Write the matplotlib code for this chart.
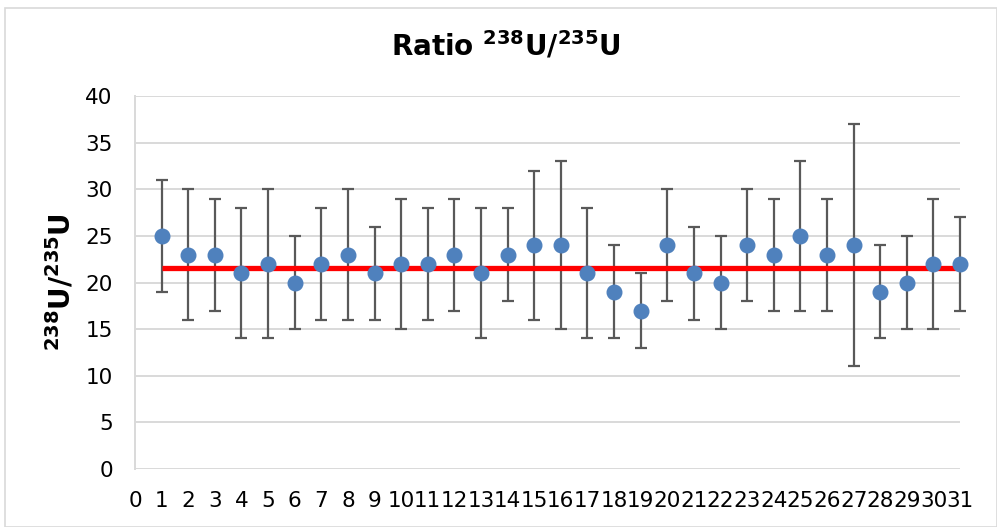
import matplotlib
matplotlib.use("Agg")
import matplotlib.pyplot as plt
from matplotlib.patches import Rectangle

# data
samples = list(range(1, 32))
ratio = [25, 23, 23, 21, 22, 20, 22, 23, 21, 22, 22, 23, 21, 23, 24, 24,
         21, 19, 17, 24, 21, 20, 24, 23, 25, 23, 24, 19, 20, 22, 22]
ratio_err = [6, 7, 6, 7, 8, 5, 6, 7, 5, 7, 6, 6, 7, 5, 8, 9,
             7, 5, 4, 6, 5, 5, 6, 6, 8, 6, 13, 5, 5, 7, 5]
mean_ratio = 21.6
x_ticks = list(range(0, 32))
y_ticks = list(range(0, 45, 5))

fig = plt.figure(figsize=(9.97, 5.27), dpi=100)
ax = fig.add_axes([0.1354, 0.110, 0.8276, 0.7078])

# outer chart border
fig.patches.append(Rectangle((0.005, 0.0), 0.995, 0.985, transform=fig.transFigure,
                             fill=False, edgecolor="#d9d9d9", linewidth=1.2))

# error bars (under the mean line)
eb = ax.errorbar(samples, ratio, yerr=ratio_err, fmt="none", ecolor="#595959",
                 elinewidth=1.6, capsize=4.5, capthick=1.6, zorder=2)
for part in eb.get_children():
    part.set_clip_on(False)
# mean line
ax.plot([samples[0], samples[-1]], [mean_ratio, mean_ratio], color="#ff0000",
        linewidth=3.8, solid_capstyle="butt", zorder=3)
# points
ax.plot(samples, ratio, "o", color="#4f81bd", markersize=10.5, zorder=4,
        markeredgecolor="#4f81bd", clip_on=False)

ax.set_xlim(0, 31)
ax.set_ylim(0, 40)
ax.set_xticks(x_ticks)
ax.set_yticks(y_ticks)
ax.tick_params(axis="both", length=0, labelsize=15.5)
ax.tick_params(axis="x", pad=16)
ax.tick_params(axis="y", pad=16)
ax.grid(axis="y", color="#d9d9d9", linewidth=1.4)
ax.set_axisbelow(True)

for side in ["top", "right", "bottom"]:
    ax.spines[side].set_visible(False)
ax.spines["left"].set_color("#d9d9d9")
ax.spines["left"].set_linewidth(1.4)

ax.set_ylabel(r"$\mathbf{^{238}U/^{235}U}$", fontsize=20, fontweight="bold", labelpad=6)
fig.text(0.507, 0.913, r"Ratio $\mathbf{^{238}U/^{235}U}$", fontsize=20,
         fontweight="bold", ha="center", va="center")

fig.savefig("out.png", dpi=100)
